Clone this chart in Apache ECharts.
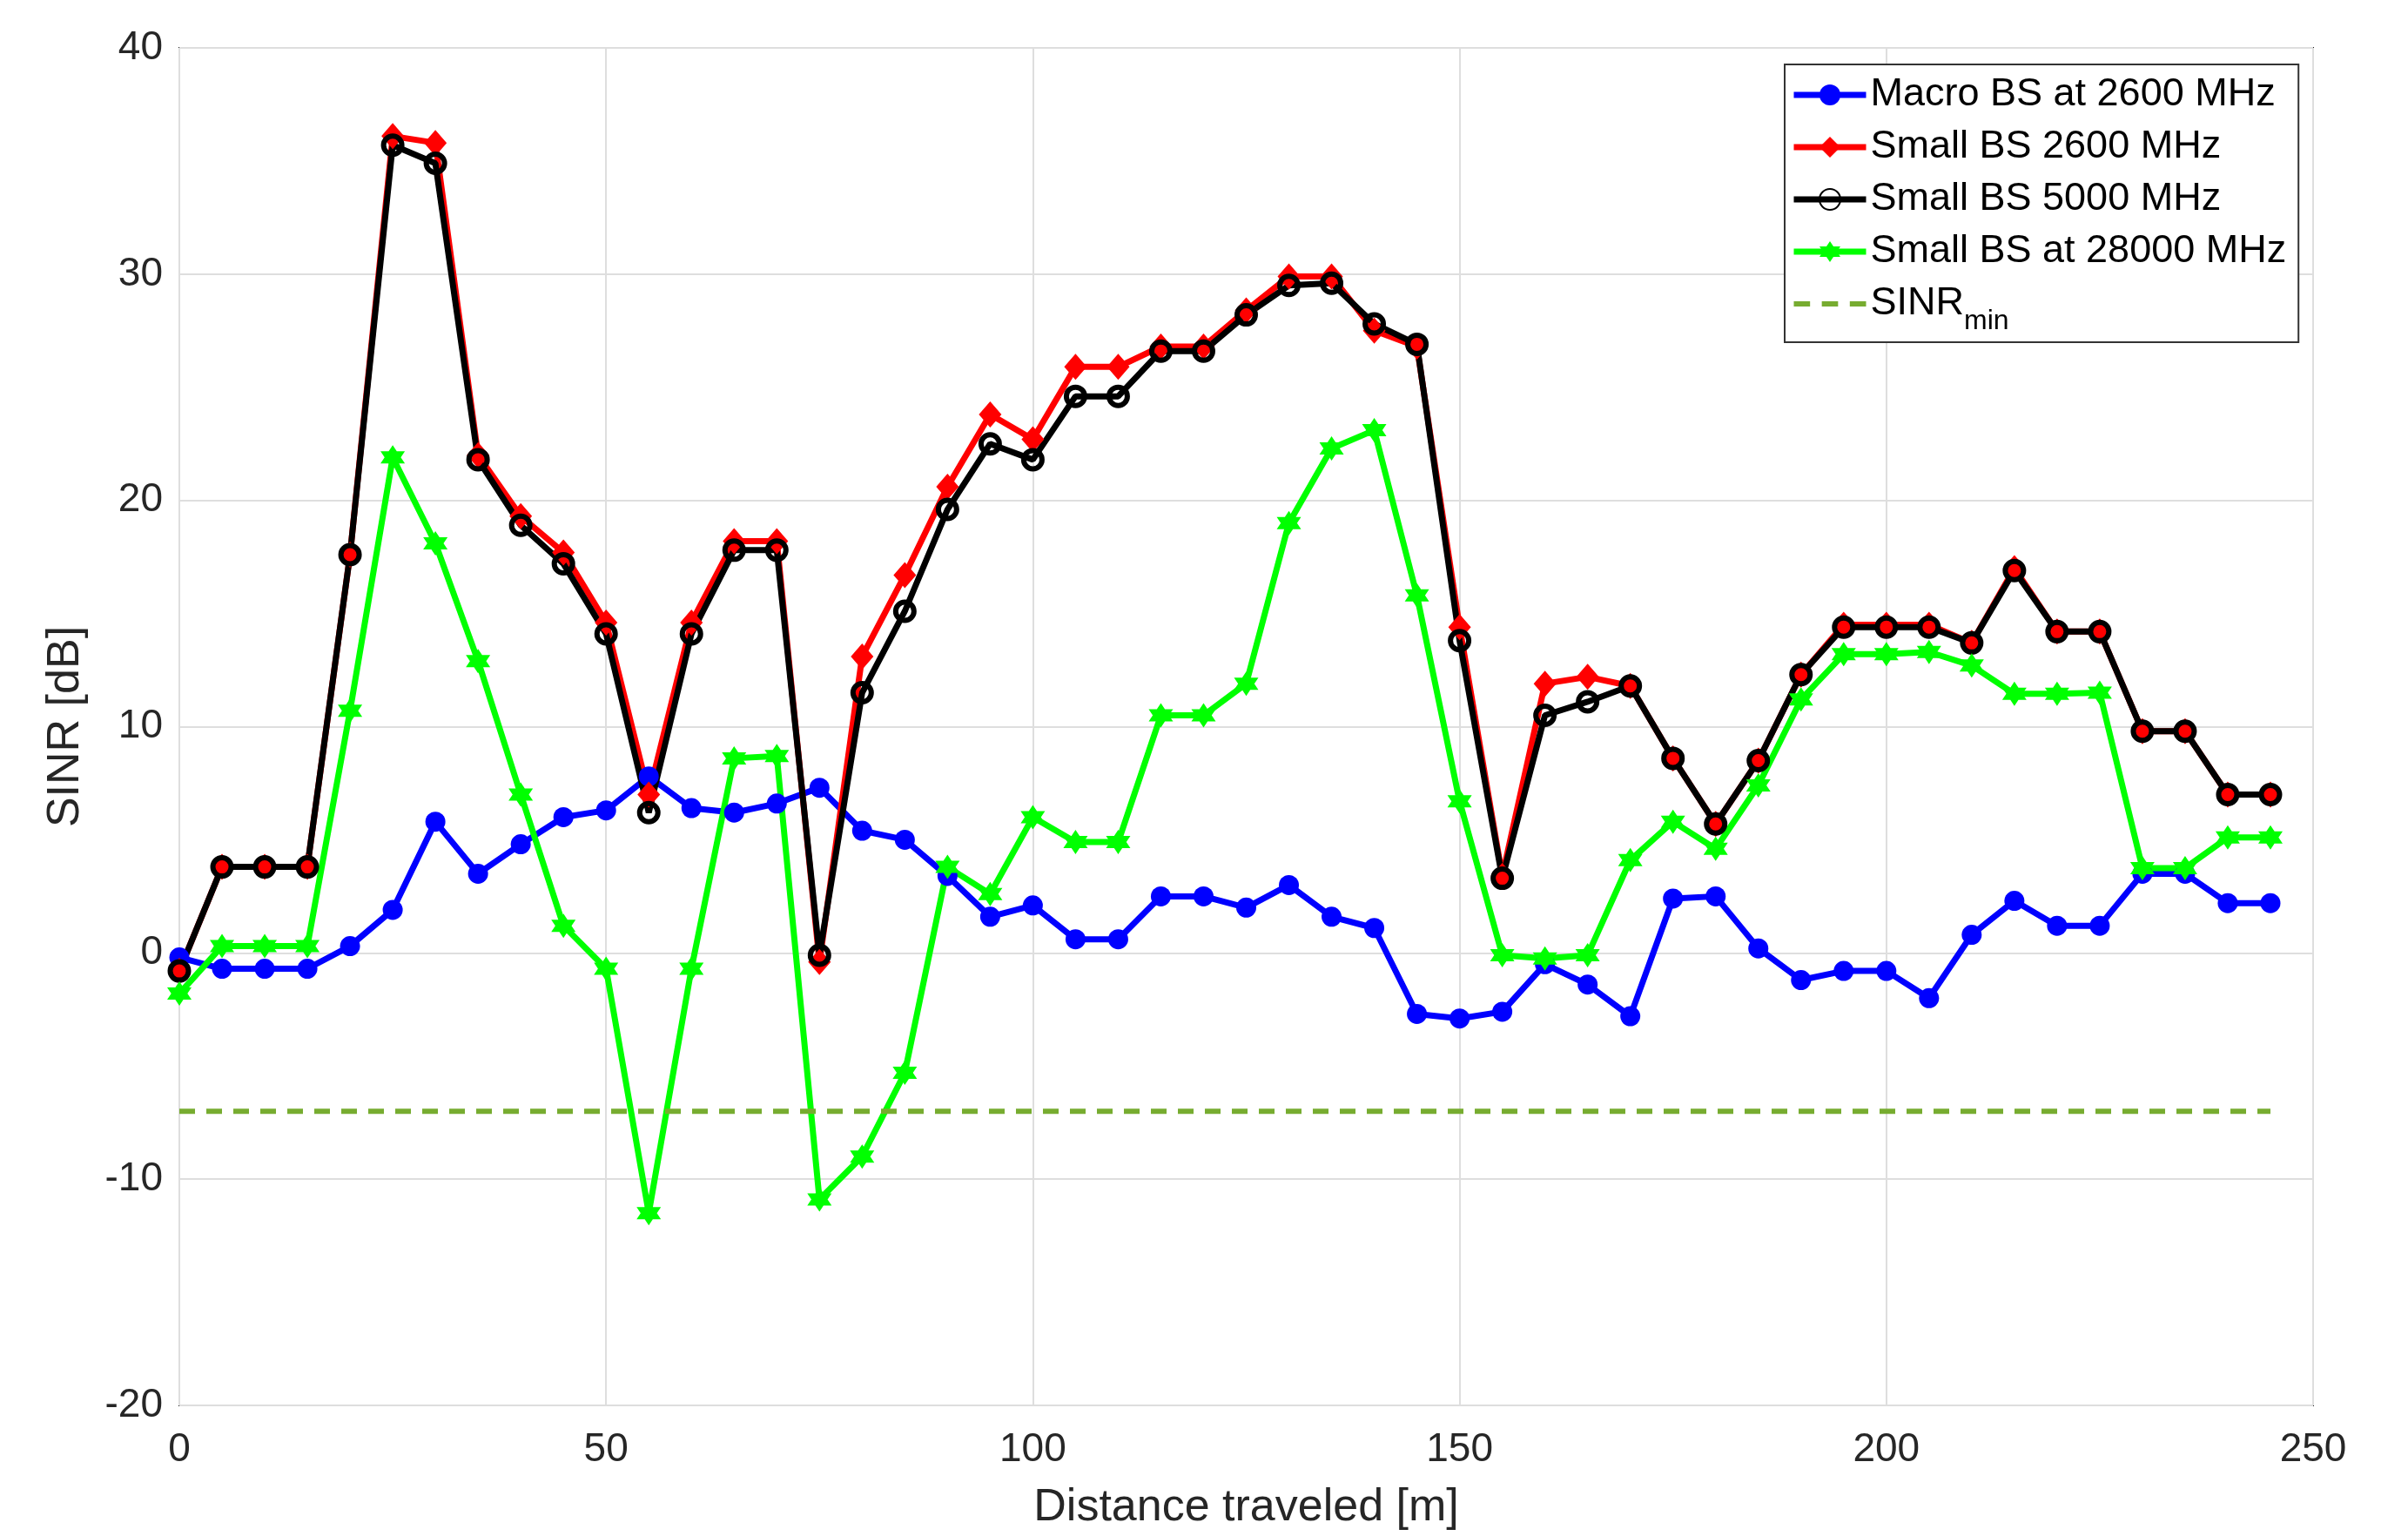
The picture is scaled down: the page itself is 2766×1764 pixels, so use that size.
<!DOCTYPE html>
<html>
<head>
<meta charset="utf-8">
<script src="https://cdn.jsdelivr.net/npm/echarts@6/dist/echarts.min.js"></script>
<style>
  html, body { margin: 0; padding: 0; background: #fff; }
  #chart { width: 2766px; height: 1764px; }
</style>
</head>
<body>
<div id="chart"></div>
<script>
// distance along the route [m]
const distance = [0, 5, 10, 15, 20, 25, 30, 35, 40, 45, 50, 55, 60, 65, 70, 75, 80, 85, 90, 95,
  100, 105, 110, 115, 120, 125, 130, 135, 140, 145, 150, 155, 160, 165, 170, 175, 180, 185, 190, 195,
  200, 205, 210, 215, 220, 225, 230, 235, 240, 245]

// SINR [dB]
const macro2600 = [-0.2, -0.7, -0.7, -0.7, 0.3, 1.9, 5.8, 3.5, 4.8, 6.0, 6.3, 7.8, 6.4, 6.2, 6.6, 7.3, 5.4, 5.0, 3.4, 1.6,
  2.1, 0.6, 0.6, 2.5, 2.5, 2.0, 3.0, 1.6, 1.1, -2.7, -2.9, -2.6, -0.5, -1.4, -2.8, 2.4, 2.5, 0.2, -1.2, -0.8,
  -0.8, -2.0, 0.8, 2.3, 1.2, 1.2, 3.5, 3.5, 2.2, 2.2]
const small2600 = [-0.8, 3.8, 3.8, 3.8, 17.6, 36.1, 35.8, 22.0, 19.3, 17.7, 14.6, 7.0, 14.6, 18.2, 18.2, -0.4, 13.1, 16.7, 20.6, 23.8,
  22.7, 25.9, 25.9, 26.8, 26.8, 28.4, 29.9, 29.9, 27.5, 26.8, 14.4, 3.4, 11.9, 12.2, 11.8, 8.6, 5.7, 8.5, 12.3, 14.5,
  14.5, 14.5, 13.7, 17.0, 14.2, 14.2, 9.8, 9.8, 7.0, 7.0]
const small5000 = [-0.8, 3.8, 3.8, 3.8, 17.6, 35.7, 34.9, 21.8, 18.9, 17.2, 14.1, 6.2, 14.1, 17.8, 17.8, -0.1, 11.5, 15.1, 19.6, 22.5,
  21.8, 24.6, 24.6, 26.6, 26.6, 28.2, 29.5, 29.6, 27.8, 26.9, 13.8, 3.3, 10.5, 11.1, 11.8, 8.6, 5.7, 8.5, 12.3, 14.4,
  14.4, 14.4, 13.7, 16.9, 14.2, 14.2, 9.8, 9.8, 7.0, 7.0]
const small28000 = [-1.8, 0.3, 0.3, 0.3, 10.7, 21.9, 18.1, 12.9, 7.0, 1.2, -0.7, -11.5, -0.7, 8.6, 8.7, -10.9, -9.0, -5.3, 3.8, 2.6,
  6.0, 4.9, 4.9, 10.5, 10.5, 11.9, 19.0, 22.3, 23.1, 15.8, 6.7, -0.1, -0.25, -0.1, 4.1, 5.8, 4.6, 7.4, 11.2, 13.2,
  13.2, 13.3, 12.7, 11.45, 11.45, 11.5, 3.75, 3.75, 5.1, 5.1]
const sinrMinX = [0, 245]
const sinrMin = [-7, -7]

const xTicks = [0, 50, 100, 150, 200, 250]
const yTicks = [-20, -10, 0, 10, 20, 30, 40]

const font = '"Liberation Sans", Arial, sans-serif'
const textColor = '#262626'

function pairs(xs, ys) {
  return xs.map((x, i) => [x, ys[i]])
}

// six-pointed star marker (matlab 'hexagram')
function hexagram() {
  let pts = []
  for (let k = 0; k < 12; k++) {
    const r = k % 2 === 0 ? 10 : 5.77
    const a = (Math.PI / 2) + k * Math.PI / 6
    pts.push((r * Math.cos(a)).toFixed(2) + ' ' + (-r * Math.sin(a)).toFixed(2))
  }
  return 'path://M' + pts.join(' L') + ' Z'
}

// legend icon for the dashed threshold line
const dashIcon = 'path://M0 0 H18 V6 H0 Z M31 0 H49 V6 H31 Z M62 0 H80 V6 H62 Z'

const chart = echarts.init(document.getElementById('chart'))

chart.setOption({
  animation: false,
  backgroundColor: '#fff',
  grid: {
    left: 206,
    right: 109,
    top: 55,
    bottom: 150,
    show: true,
    borderColor: '#262626',
    borderWidth: 2
  },
  legend: {
    orient: 'vertical',
    left: 2050,
    top: 74,
    padding: [10, 14, 8, 7],
    itemGap: 10,
    itemWidth: 83,
    itemHeight: 30,
    backgroundColor: '#fff',
    borderColor: '#333',
    borderWidth: 2,
    borderRadius: 0,
    lineStyle: { width: 7 },
    textStyle: {
      fontFamily: font,
      fontSize: 45,
      lineHeight: 50,
      color: '#000',
      rich: {
        main: { fontFamily: font, fontSize: 45, color: '#000' },
        sub: { fontFamily: font, fontSize: 32, color: '#000', padding: [40, 0, 0, 0] }
      }
    },
    formatter: function (name) {
      return name === 'SINR_min' ? '{main|SINR}{sub|min}' : name
    },
    data: ['Macro BS at 2600 MHz', 'Small BS 2600 MHz', 'Small BS 5000 MHz', 'Small BS at 28000 MHz',
      { name: 'SINR_min', icon: dashIcon, itemStyle: { color: '#77ac30' } }]
  },
  xAxis: {
    type: 'value',
    min: xTicks[0],
    max: xTicks[xTicks.length - 1],
    interval: 50,
    name: 'Distance traveled [m]',
    nameLocation: 'middle',
    nameGap: 92,
    nameTextStyle: { fontFamily: font, fontSize: 52, color: textColor },
    axisLine: { show: false },
    axisTick: { show: false },
    axisLabel: { fontFamily: font, fontSize: 46, color: textColor, margin: 28 },
    splitLine: { show: true, lineStyle: { color: '#dedede', width: 2 } }
  },
  yAxis: {
    type: 'value',
    min: yTicks[0],
    max: yTicks[yTicks.length - 1],
    interval: 10,
    name: 'SINR [dB]',
    nameLocation: 'middle',
    nameGap: 104,
    nameTextStyle: { fontFamily: font, fontSize: 52, color: textColor },
    axisLine: { show: false },
    axisTick: { show: false },
    axisLabel: { fontFamily: font, fontSize: 46, color: textColor, margin: 19 },
    splitLine: { show: true, lineStyle: { color: '#dedede', width: 2 } }
  },
  series: [
    {
      name: 'Macro BS at 2600 MHz',
      type: 'line',
      data: pairs(distance, macro2600),
      symbol: 'circle',
      symbolSize: 23,
      itemStyle: { color: '#0000ff' },
      lineStyle: { color: '#0000ff', width: 7 }
    },
    {
      name: 'Small BS 2600 MHz',
      type: 'line',
      data: pairs(distance, small2600),
      symbol: 'diamond',
      symbolSize: [26, 30],
      itemStyle: { color: '#ff0000' },
      lineStyle: { color: '#ff0000', width: 7 }
    },
    {
      name: 'Small BS 5000 MHz',
      type: 'line',
      data: pairs(distance, small5000),
      symbol: 'circle',
      symbolSize: 21,
      itemStyle: { color: 'rgba(0,0,0,0)', borderColor: '#000', borderWidth: 6 },
      lineStyle: { color: '#000', width: 7 }
    },
    {
      name: 'Small BS at 28000 MHz',
      type: 'line',
      data: pairs(distance, small28000),
      symbol: hexagram(),
      symbolSize: 28,
      itemStyle: { color: '#00ff00' },
      lineStyle: { color: '#00ff00', width: 7 }
    },
    {
      name: 'SINR_min',
      type: 'line',
      data: pairs(sinrMinX, sinrMin),
      symbol: 'none',
      itemStyle: { color: '#77ac30' },
      lineStyle: { color: '#77ac30', width: 6, type: [18, 13] }
    }
  ]
})
</script>
</body>
</html>
